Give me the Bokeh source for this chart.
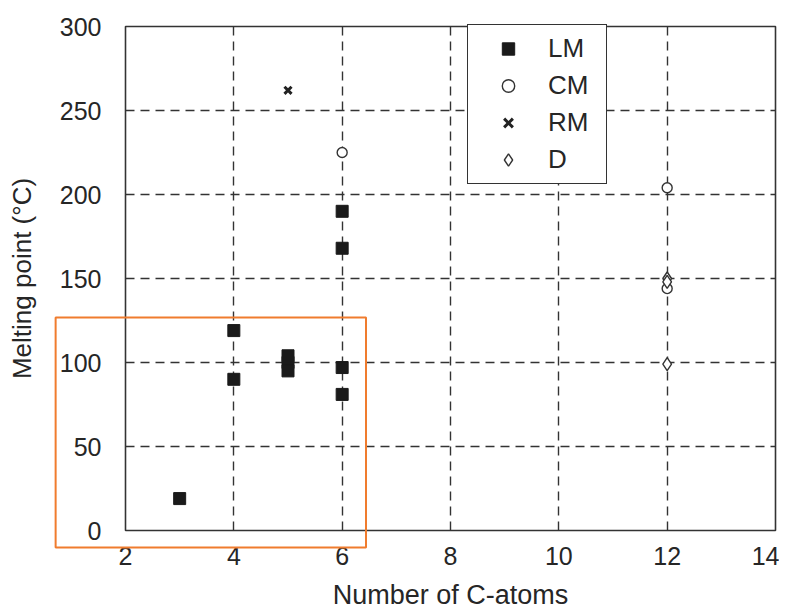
from bokeh.plotting import figure
from bokeh.models import Range1d, FixedTicker, Legend, LegendItem, BoxAnnotation
from bokeh.embed import file_html
from bokeh.resources import INLINE

# ---- data ----
lm_x = [3, 4, 4, 5, 5, 5, 6, 6, 6, 6]
lm_y = [19, 119, 90, 104, 100, 95, 97, 81, 190, 168]
cm_x = [6, 12, 12]
cm_y = [225, 204, 144]
rm_x = [5]
rm_y = [262]
d_x = [12, 12, 12]
d_y = [150, 148, 99]

x_ticks = [2, 4, 6, 8, 10, 12, 14]
y_ticks = [0, 50, 100, 150, 200, 250, 300]

# highlight box (data units)
box_left, box_right, box_bottom, box_top = 0.71, 6.44, -10.1, 126.8

FONT = "Liberation Sans"
TXT = "#262626"
GRID = "#333333"
X0, X1, Y0, Y1 = 2, 14, 0, 300

# plot-area size (px) and extra room around it that belongs to the drawing frame
AW, AH = 650, 504
PAD_L, PAD_R, PAD_T, PAD_B = 121, 4, 26, 83
sx = AW / (X1 - X0)
sy = AH / (Y1 - Y0)

p = figure(frame_width=AW + PAD_L + PAD_R, frame_height=AH + PAD_T + PAD_B,
           output_backend="svg", toolbar_location=None,
           x_range=Range1d(X0 - PAD_L / sx, X1 + PAD_R / sx),
           y_range=Range1d(Y0 - PAD_B / sy, Y1 + PAD_T / sy),
           min_border_left=4, min_border_right=0, min_border_top=0,
           min_border_bottom=0)
p.background_fill_color = "white"
p.border_fill_color = "white"
p.outline_line_color = None

for ax in (p.xaxis[0], p.yaxis[0]):
    ax.axis_line_color = None
    ax.major_tick_line_color = None
    ax.minor_tick_line_color = None
    ax.major_label_text_font = FONT
    ax.major_label_text_font_size = "25px"
    ax.major_label_text_color = TXT
    ax.axis_label_text_font = FONT
    ax.axis_label_text_font_style = "normal"
    ax.axis_label_text_color = TXT

p.xaxis.fixed_location = Y0
p.yaxis.fixed_location = X0
p.xaxis.bounds = (X0, X1)
p.yaxis.bounds = (Y0, Y1)
p.xaxis.ticker = FixedTicker(ticks=x_ticks)
p.yaxis.ticker = FixedTicker(ticks=y_ticks)
p.xaxis.axis_label = "Number of C-atoms"
p.yaxis.axis_label = "Melting point (°C)"
p.xaxis.axis_label_text_font_size = "27px"
p.yaxis.axis_label_text_font_size = "26px"
p.xaxis.major_label_standoff = 10
p.yaxis.major_label_standoff = 18
p.xaxis.axis_label_standoff = 12
p.yaxis.axis_label_standoff = 20

# grid lines restricted to the plot area
gx, gy = p.xgrid[0], p.ygrid[0]
if "cross_bounds" in gx.properties():
    gx.ticker = FixedTicker(ticks=x_ticks[1:-1])
    gy.ticker = FixedTicker(ticks=y_ticks[1:-1])
    gx.cross_bounds = (Y0, Y1)
    gy.cross_bounds = (X0, X1)
    for g in (gx, gy):
        g.grid_line_color = GRID
        g.grid_line_dash = "9 6"
        g.grid_line_width = 1.4
else:
    gx.visible = False
    gy.visible = False
    gxs = x_ticks[1:-1]
    gys = y_ticks[1:-1]
    p.segment(x0=gxs, y0=[Y0] * len(gxs), x1=gxs, y1=[Y1] * len(gxs),
              line_color=GRID, line_dash="9 6", line_width=1.4)
    p.segment(x0=[X0] * len(gys), y0=gys, x1=[X1] * len(gys), y1=gys,
              line_color=GRID, line_dash="9 6", line_width=1.4)

r_lm = p.scatter(lm_x, lm_y, marker="square", size=12, fill_color="#1a1a1a",
                 line_color="#1a1a1a")
r_cm = p.scatter(cm_x, cm_y, marker="circle", size=10, fill_color="white",
                 line_color="#333333", line_width=1.4)
r_rm = p.scatter(rm_x, rm_y, marker="x", size=10, line_color="#222222",
                 line_width=3)
r_d = p.scatter(d_x, d_y, marker="diamond", size=13, fill_color="white",
                line_color="#333333", line_width=1.4)

# plot area outline
outline = BoxAnnotation(left=X0, right=X1, bottom=Y0, top=Y1, fill_alpha=0,
                        line_color="#333333", line_alpha=1.0, line_width=1.6)
p.add_layout(outline)

# orange highlight box
box = BoxAnnotation(left=box_left, right=box_right, bottom=box_bottom,
                    top=box_top, fill_alpha=0, line_color="#F07C2E",
                    line_alpha=1.0, line_width=2)
p.add_layout(box)

# legend
LH, LSP, LPAD = 31, 6, 8
leg_h = 4 * LH + 3 * LSP + 2 * LPAD
legend = Legend(items=[LegendItem(label="LM", renderers=[r_lm]),
                       LegendItem(label="CM", renderers=[r_cm]),
                       LegendItem(label="RM", renderers=[r_rm]),
                       LegendItem(label="D", renderers=[r_d])],
                location=(PAD_L + 342, PAD_B + AH - leg_h))
legend.label_text_font = FONT
legend.label_text_font_size = "26px"
legend.label_text_color = TXT
legend.glyph_width = 64
legend.glyph_height = LH
legend.label_height = LH
legend.label_width = 50
legend.label_standoff = 8
legend.spacing = LSP
legend.padding = LPAD
legend.margin = 0
legend.border_line_color = "#333333"
legend.border_line_width = 1.6
legend.border_line_alpha = 1.0
legend.background_fill_alpha = 1.0
p.add_layout(legend)

open("out.html", "w").write(file_html(p, INLINE))
